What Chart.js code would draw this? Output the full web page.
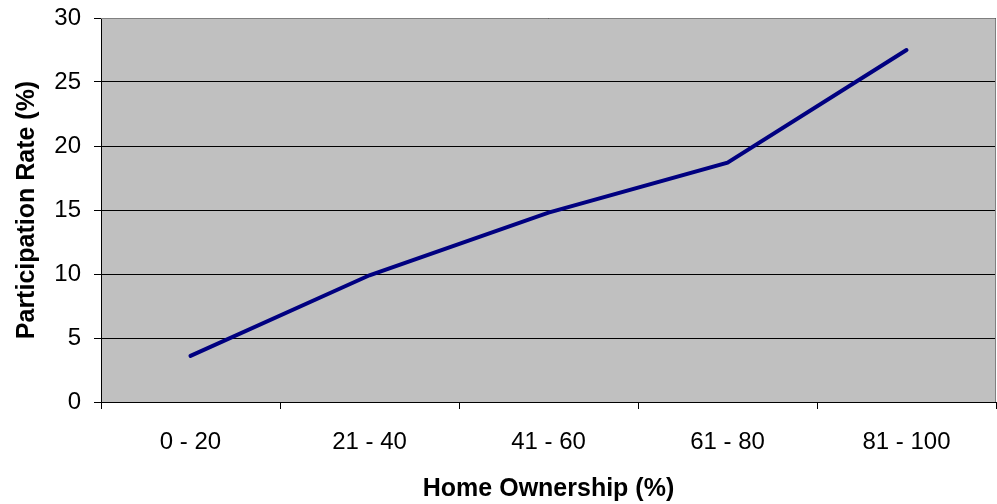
<!DOCTYPE html>
<html>
<head>
<meta charset="utf-8">
<script src="https://cdn.jsdelivr.net/npm/chart.js@4/dist/chart.umd.min.js"></script>
<style>
    html, body { margin: 0; padding: 0; background: #fff; }
    #wrap { width: 997px; height: 504px; }
</style>
</head>
<body>
<div id="wrap"><canvas id="rateChart" width="997" height="504"></canvas></div>
<script>
// ── Data ──────────────────────────────────────────────────

const ownershipBands = ['0 - 20', '21 - 40', '41 - 60', '61 - 80', '81 - 100'];
const participationRates = [3.6, 9.9, 14.8, 18.7, 27.5];
const yTicks = [0, 5, 10, 15, 20, 25, 30];

// ── Plot area background ─────────────────────────────────

const plotArea = {
    id: 'plotArea',
    beforeDraw(chart) {
        const { ctx, chartArea: a } = chart;
        ctx.save();
        ctx.fillStyle = '#c0c0c0';
        ctx.fillRect(a.left, a.top, a.right - a.left, a.bottom - a.top);
        ctx.restore();
    },
    afterDraw(chart) {
        const { ctx, chartArea: a } = chart;
        ctx.save();
        ctx.strokeStyle = '#808080';
        ctx.lineWidth = 1;
        ctx.beginPath();
        ctx.moveTo(a.left, a.top + 0.5);
        ctx.lineTo(a.right - 0.5, a.top + 0.5);
        ctx.lineTo(a.right - 0.5, a.bottom);
        ctx.stroke();
        ctx.restore();
    }
};

// ── Chart ─────────────────────────────────────────────────

const font = { family: '"Liberation Sans", Arial, sans-serif', size: 24 };
const titleFont = { ...font, size: 25, weight: 'bold' };

new Chart(document.getElementById('rateChart'), {
    type: 'line',
    data: {
        labels: ownershipBands,
        datasets: [{
            data: participationRates,
            borderColor: '#000080',
            borderWidth: 4,
            borderCapStyle: 'round',
            pointRadius: 0,
            tension: 0,
            fill: false
        }]
    },
    options: {
        responsive: false,
        animation: false,
        layout: { padding: { top: 18, right: 1, left: 0, bottom: 0 } },
        plugins: {
            legend: { display: false },
            tooltip: { enabled: false }
        },
        scales: {
            x: {
                offset: true,
                grid: {
                    offset: true,
                    drawOnChartArea: false,
                    drawTicks: true,
                    tickLength: 7,
                    tickColor: '#000'
                },
                border: { color: '#000', width: 1 },
                ticks: { color: '#000', font: font, padding: 19, maxRotation: 0 },
                title: {
                    display: true,
                    text: 'Home Ownership (%)',
                    color: '#000',
                    font: titleFont,
                    padding: { top: 4, bottom: 0 }
                },
                afterFit(scale) {
                    scale.height = 102;
                    scale.paddingLeft = 0;
                    scale.paddingRight = 0;
                }
            },
            y: {
                min: 0,
                max: 30,
                afterBuildTicks(scale) {
                    scale.ticks = yTicks.map(v => ({ value: v }));
                },
                grid: {
                    color: '#000',
                    drawTicks: true,
                    tickLength: 7,
                    tickColor: '#000'
                },
                border: { color: '#000', width: 1 },
                ticks: { color: '#000', font: font, padding: 13 },
                title: {
                    display: true,
                    text: 'Participation Rate (%)',
                    color: '#000',
                    font: titleFont,
                    padding: { top: 12, bottom: 0 }
                },
                afterFit(scale) {
                    scale.width = 101;
                    scale.paddingTop = 0;
                    scale.paddingBottom = 0;
                }
            }
        }
    },
    plugins: [plotArea]
});
</script>
</body>
</html>
